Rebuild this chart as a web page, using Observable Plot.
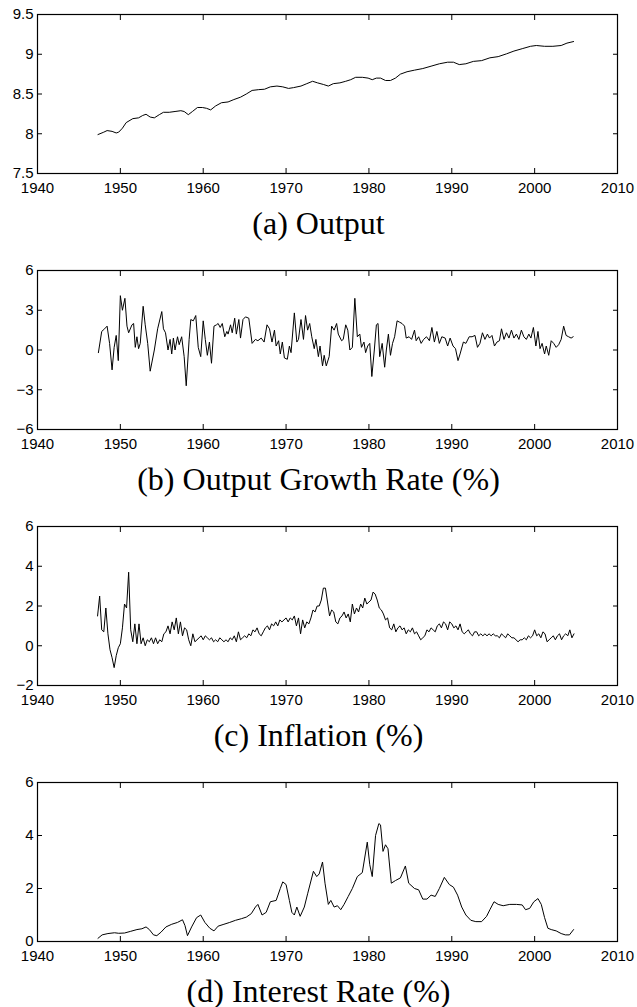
<!DOCTYPE html>
<html><head><meta charset="utf-8">
<script src="https://cdn.jsdelivr.net/npm/d3@7"></script>
<script src="https://cdn.jsdelivr.net/npm/@observablehq/plot@0.6"></script>
<style>
body{margin:0;background:#fff;}
.cap{font-family:"Liberation Serif","Times New Roman",serif;font-size:32px;text-align:center;width:637px;height:56px;line-height:46px;color:#000;}
</style></head><body><div id="root"></div>
<script>
const xTicks = [1940, 1950, 1960, 1970, 1980, 1990, 2000, 2010];
const captions = ["(a) Output", "(b) Output Growth Rate (%)", "(c) Inflation (%)", "(d) Interest Rate (%)"];

// (a) Output
const outputYears = [1947.3,1948.0,1948.4,1949.0,1949.5,1949.8,1950.25,1950.7,1951.5,1952.2,1952.7,1953.1,1953.6,1954.1,1954.7,1955.2,1955.9,1956.6,1957.3,1957.7,1958.2,1958.7,1959.3,1959.9,1960.4,1960.9,1961.5,1962.2,1963.0,1963.7,1964.5,1965.2,1965.9,1966.7,1967.4,1968.1,1968.9,1969.6,1970.3,1970.9,1971.8,1972.5,1973.2,1973.8,1974.5,1975.1,1975.7,1976.5,1977.2,1977.8,1978.4,1979.2,1979.9,1980.4,1980.9,1981.4,1982.0,1982.6,1983.2,1983.8,1984.6,1985.5,1986.5,1987.5,1988.5,1989.5,1990.2,1990.9,1991.7,1992.6,1993.6,1994.6,1995.6,1996.6,1997.5,1998.5,1999.5,2000.2,2001.2,2002.2,2003.2,2003.9,2004.7];
const outputValues = [7.99,8.02,8.04,8.03,8.01,8.02,8.07,8.14,8.19,8.20,8.23,8.245,8.21,8.20,8.24,8.27,8.27,8.28,8.29,8.28,8.24,8.28,8.33,8.33,8.32,8.30,8.35,8.39,8.40,8.43,8.46,8.50,8.545,8.555,8.56,8.59,8.60,8.59,8.57,8.58,8.60,8.63,8.66,8.64,8.62,8.60,8.63,8.64,8.66,8.68,8.71,8.71,8.70,8.68,8.70,8.70,8.67,8.67,8.70,8.75,8.78,8.80,8.82,8.85,8.88,8.90,8.90,8.87,8.88,8.91,8.92,8.955,8.97,9.005,9.04,9.07,9.10,9.11,9.10,9.10,9.11,9.14,9.16];

// (b) Output growth rate
const growthYears = [1947.35,1947.75,1948.1,1948.4,1948.7,1949.0,1949.25,1949.5,1949.75,1950.0,1950.25,1950.55,1950.8,1951.0,1951.4,1951.6,1951.8,1952.0,1952.2,1952.4,1952.75,1953.0,1953.3,1953.6,1954.1,1954.5,1955.0,1955.2,1955.45,1955.75,1956.0,1956.2,1956.4,1956.6,1956.9,1957.1,1957.4,1957.7,1957.95,1958.3,1958.5,1958.8,1959.1,1959.4,1959.7,1960.0,1960.25,1960.5,1960.75,1961.0,1961.3,1961.6,1961.8,1962.05,1962.3,1962.6,1962.85,1963.0,1963.3,1963.5,1963.8,1964.0,1964.3,1964.5,1964.8,1965.1,1965.5,1965.9,1966.3,1966.6,1967.0,1967.35,1967.7,1968.0,1968.3,1968.6,1968.8,1969.1,1969.3,1969.55,1969.8,1970.15,1970.4,1970.6,1971.0,1971.3,1971.5,1971.8,1972.1,1972.35,1972.6,1972.85,1973.1,1973.4,1973.6,1973.9,1974.1,1974.4,1974.6,1974.85,1975.2,1975.5,1975.8,1976.1,1976.3,1976.7,1976.9,1977.2,1977.45,1977.7,1978.0,1978.3,1978.6,1978.9,1979.1,1979.4,1979.6,1979.85,1980.1,1980.35,1980.65,1980.9,1981.1,1981.3,1981.6,1981.9,1982.1,1982.35,1982.6,1982.85,1983.1,1983.4,1983.7,1984.0,1984.3,1984.5,1984.85,1985.15,1985.5,1985.7,1986.0,1986.3,1986.6,1986.95,1987.3,1987.6,1987.9,1988.2,1988.5,1988.8,1989.2,1989.5,1989.8,1990.15,1990.45,1990.75,1991.0,1991.4,1991.7,1992.1,1992.45,1992.8,1993.1,1993.4,1993.7,1994.0,1994.3,1994.55,1994.85,1995.15,1995.45,1995.75,1996.0,1996.3,1996.6,1996.9,1997.2,1997.5,1997.8,1998.1,1998.4,1998.7,1999.0,1999.3,1999.55,1999.85,2000.15,2000.4,2000.65,2000.9,2001.2,2001.4,2001.7,2002.0,2002.3,2002.6,2002.9,2003.2,2003.5,2003.8,2004.1,2004.4,2004.65];
const growthValues = [-0.2,1.4,1.6,1.8,0.5,-1.5,0.2,1.1,-0.8,4.1,3.0,3.9,1.8,1.3,1.9,2.0,0.2,1.0,0.1,0.5,3.3,1.9,0.5,-1.6,0.0,1.6,2.9,1.6,1.3,0.0,0.8,-0.3,0.9,0.0,1.0,0.4,1.0,-0.5,-2.7,0.8,2.3,2.2,2.6,0.2,-0.5,2.2,0.8,-0.4,0.6,-1.0,1.8,1.9,2.0,1.7,2.0,1.0,1.4,1.2,1.9,1.3,2.4,1.2,2.3,0.9,2.3,2.5,2.4,0.5,0.8,0.7,0.9,0.6,1.9,1.6,0.6,1.5,0.3,0.7,-0.3,0.6,-0.6,-0.7,0.3,-0.2,2.8,0.6,0.8,2.3,0.8,2.6,1.5,2.0,1.0,0.1,0.8,-0.5,0.3,-1.2,-0.4,-1.2,-0.5,1.8,1.5,2.0,1.2,0.7,0.8,1.9,1.5,0.0,0.2,3.9,1.0,1.2,0.2,0.6,-0.2,0.3,0.5,-2.0,0.0,1.9,2.0,-0.5,0.5,-1.3,0.0,1.2,-0.4,0.5,1.0,2.2,2.1,2.0,1.8,0.9,1.0,0.8,1.5,0.7,1.0,0.5,0.8,1.0,0.7,1.7,0.6,1.4,0.5,1.0,0.9,0.3,0.9,0.3,0.1,-0.8,-0.3,0.6,0.5,1.0,1.0,1.1,0.2,0.5,1.3,0.8,1.2,0.9,1.1,0.3,0.6,0.7,1.6,0.8,1.3,0.9,1.5,0.9,1.2,0.8,1.5,1.0,0.8,1.2,0.9,1.7,0.3,1.4,0.1,0.5,-0.3,0.3,-0.4,0.7,0.5,0.2,0.4,0.8,1.8,1.1,1.0,0.9,1.0];

// (c) Inflation, quarterly from 1947 Q2
const inflationStart = 1947.25;
const inflationValues = [
1.5,2.5,0.8,
0.7,1.9,0.6,-0.2, -0.6,-1.1,-0.5,-0.1, 0.1,0.9,2.1,1.9, 3.7,0.8,0.2,1.1, 0.1,1.1,0.1,0.4,
0.0,0.3,0.2,0.4, 0.1,0.4,0.1,0.3, 0.2,0.6,0.7,1.0, 0.6,1.2,0.8,1.4, 0.6,1.2,0.5,0.9,
0.8,0.3,0.0,0.6, 0.2,0.3,0.4,0.5, 0.3,0.5,0.4,0.3, 0.4,0.2,0.3,0.2, 0.4,0.3,0.2,0.3,
0.2,0.4,0.3,0.5, 0.2,0.7,0.3,0.4, 0.5,0.4,0.6,0.5, 0.8,0.7,0.9,0.6, 0.5,0.7,0.9,1.0,
0.8,1.1,1.0,1.2, 1.0,1.3,1.2,1.3, 1.4,1.2,1.4,1.3, 1.5,1.0,1.4,0.6, 1.3,0.9,1.2,1.1,
1.4,1.8,1.7,2.0, 2.0,2.3,2.9,2.9, 2.2,1.5,1.8,1.7, 1.2,1.1,1.4,1.5, 1.7,1.4,1.6,1.2,
2.1,1.6,1.9,1.7, 2.1,1.9,2.4,2.1, 2.2,2.3,2.7,2.6, 2.3,1.9,1.8,1.6, 1.3,1.4,0.9,0.8,
1.1,0.7,0.9,1.0, 0.8,0.9,0.6,0.8, 0.7,0.9,0.6,0.7, 0.5,0.3,0.4,0.5, 0.8,0.7,0.9,0.8,
0.7,1.0,1.1,0.9, 1.2,1.1,0.8,1.2, 1.1,0.9,1.0,0.8, 1.1,0.7,0.6,0.7, 0.8,0.6,0.5,0.7,
0.7,0.5,0.6,0.5, 0.6,0.5,0.6,0.5, 0.6,0.5,0.5,0.4, 0.6,0.5,0.4,0.6, 0.5,0.4,0.4,0.3,
0.2,0.3,0.3,0.4, 0.3,0.5,0.4,0.5, 0.8,0.5,0.6,0.4, 0.7,0.6,0.2,0.3, 0.4,0.5,0.3,0.5,
0.6,0.3,0.5,0.6, 0.5,0.8,0.4,0.6];
const inflationYears = inflationValues.map((_, i) => inflationStart + i / 4);

// (d) Interest rate
const rateYears = [1947.3,1947.8,1948.5,1949.3,1949.8,1950.5,1951.2,1952.0,1952.6,1953.1,1953.5,1954.0,1954.4,1954.9,1955.5,1956.2,1956.9,1957.5,1957.8,1958.1,1958.6,1959.2,1959.7,1960.2,1960.8,1961.3,1961.8,1962.5,1963.2,1963.9,1964.6,1965.2,1965.8,1966.3,1966.6,1967.1,1967.6,1968.1,1968.8,1969.3,1969.6,1970.0,1970.4,1970.7,1971.0,1971.3,1971.7,1972.2,1972.6,1973.3,1973.7,1974.0,1974.4,1974.7,1975.1,1975.4,1975.8,1976.2,1976.6,1977.0,1977.5,1978.0,1978.6,1979.2,1979.8,1980.1,1980.4,1980.8,1981.2,1981.4,1981.7,1982.0,1982.3,1982.7,1983.2,1983.8,1984.4,1984.8,1985.5,1986.0,1986.5,1987.0,1987.5,1988.0,1988.5,1989.1,1989.7,1990.2,1990.7,1991.2,1991.7,1992.3,1992.9,1993.6,1994.2,1994.6,1995.1,1995.6,1996.2,1997.0,1997.8,1998.5,1998.9,1999.4,1999.9,2000.4,2000.8,2001.2,2001.6,2002.0,2002.6,2003.2,2003.7,2004.2,2004.7];
const rateValues = [0.12,0.25,0.30,0.33,0.31,0.32,0.38,0.45,0.48,0.55,0.45,0.25,0.22,0.35,0.55,0.65,0.72,0.82,0.60,0.22,0.55,0.90,1.00,0.72,0.50,0.40,0.58,0.65,0.72,0.80,0.86,0.92,1.05,1.30,1.40,1.00,1.10,1.50,1.55,2.00,2.25,2.15,1.55,1.10,1.00,1.30,0.95,1.30,1.80,2.65,2.45,2.55,3.00,2.20,1.40,1.55,1.30,1.35,1.20,1.40,1.70,2.00,2.45,2.60,3.75,2.90,2.45,4.00,4.45,4.40,3.40,3.65,3.50,2.20,2.30,2.40,2.85,2.20,2.00,1.95,1.60,1.60,1.75,1.70,2.00,2.42,2.15,2.05,1.75,1.30,1.00,0.80,0.75,0.75,0.95,1.20,1.50,1.40,1.35,1.40,1.40,1.38,1.20,1.25,1.50,1.62,1.40,0.90,0.50,0.45,0.40,0.30,0.25,0.25,0.45];

const yDomains = [[7.5, 9.5], [-6, 6], [-2, 6], [0, 6]];
const yTickSets = [[7.5, 8, 8.5, 9, 9.5], [-6, -3, 0, 3, 6], [-2, 0, 2, 4, 6], [0, 2, 4, 6]];

const series = [
  [outputYears, outputValues],
  [growthYears, growthValues],
  [inflationYears, inflationValues],
  [rateYears, rateValues]
];

const fmt = d => String(d).replace("-", "\u2212");
const root = document.getElementById("root");

series.forEach(([ys, vs], k) => {
  const data = ys.map((t, i) => ({t, v: vs[i]}));
  const chart = Plot.plot({
    width: 637, height: 200,
    marginLeft: 37, marginRight: 20, marginTop: 14, marginBottom: 27,
    style: {fontFamily: "'Liberation Sans', Arial, sans-serif", fontSize: "15px", color: "#000", background: "#fff", overflow: "visible"},
    x: {domain: [1940, 2010]},
    y: {domain: yDomains[k]},
    marks: [
      Plot.axisX(xTicks, {anchor: "bottom", tickSize: -5, tickPadding: 14, tickFormat: "d", label: null}),
      Plot.axisX(xTicks, {anchor: "top", tickSize: -5, tickFormat: () => "", label: null}),
      Plot.axisY(yTickSets[k], {anchor: "left", tickSize: -5, tickPadding: 9, tickFormat: fmt, label: null}),
      Plot.axisY(yTickSets[k], {anchor: "right", tickSize: -5, tickFormat: () => "", label: null}),
      Plot.frame({stroke: "#000", strokeWidth: 1.2}),
      Plot.line(data, {x: "t", y: "v", stroke: "#000", strokeWidth: 1})
    ]
  });
  chart.style.display = "block";
  root.appendChild(chart);
  const cap = document.createElement("div");
  cap.className = "cap";
  cap.textContent = captions[k];
  if (k === 3) cap.style.height = "39px";
  root.appendChild(cap);
});
</script>
</body></html>
